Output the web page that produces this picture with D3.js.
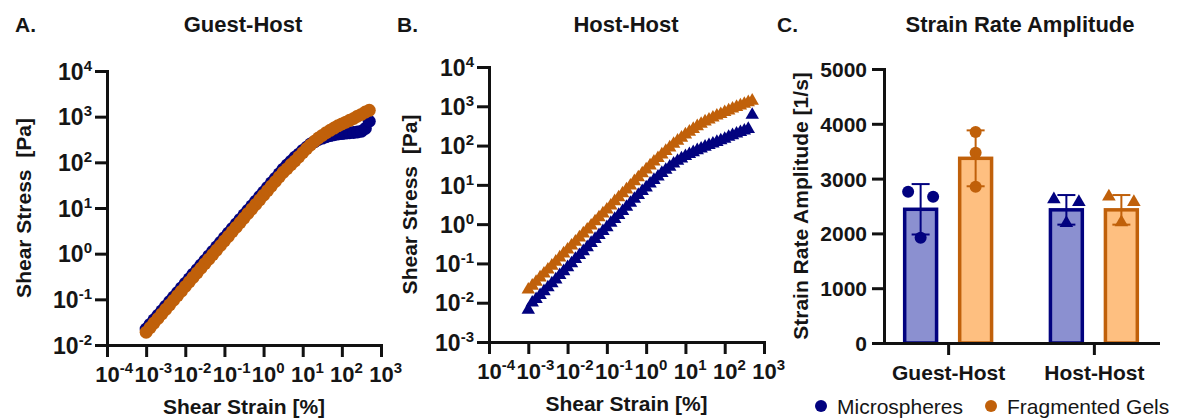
<!DOCTYPE html>
<html>
<head>
<meta charset="utf-8">
<script src="https://cdn.jsdelivr.net/npm/d3@7"></script>
<style>
  body { margin: 0; background: #fff; }
  svg text { font-family: "Liberation Sans", Arial, sans-serif; fill: #151515; }
</style>
</head>
<body>
<svg id="chart" width="1177" height="418"></svg>
<script>
"use strict";

// shear strain of the amplitude sweeps [%], 10 points per decade
var strain = [
    0.001, 0.00126, 0.00158, 0.002, 0.00251, 0.00316, 0.00398, 0.00501, 0.00631, 0.00794,
    0.01, 0.0126, 0.0158, 0.02, 0.0251, 0.0316, 0.0398, 0.0501, 0.0631, 0.0794,
    0.1, 0.126, 0.158, 0.2, 0.251, 0.316, 0.398, 0.501, 0.631, 0.794,
    1, 1.26, 1.58, 2, 2.51, 3.16, 3.98, 5.01, 6.31, 7.94,
    10, 12.6, 15.8, 20, 25.1, 31.6, 39.8, 50.1, 63.1, 79.4,
    100, 126, 158, 200, 251, 316, 398, 501];

// shear stress [Pa], guest-host
var ghMicro = [
    0.0224, 0.0282, 0.0355, 0.0447, 0.0562, 0.0708, 0.0891, 0.112, 0.141, 0.178,
    0.224, 0.282, 0.355, 0.447, 0.562, 0.708, 0.891, 1.12, 1.41, 1.78,
    2.24, 2.82, 3.55, 4.47, 5.62, 7.08, 8.91, 11.2, 14.1, 17.8,
    22.4, 28.2, 35.5, 44.7, 56.2, 70.8, 87.1, 105, 129, 151,
    182, 214, 251, 282, 316, 339, 363, 385, 403, 417,
    427, 437, 447, 452, 462, 479, 550, 794];
var ghFrag = [
    0.0191, 0.0240, 0.0302, 0.0380, 0.0479, 0.0603, 0.0759, 0.0955, 0.120, 0.151,
    0.191, 0.240, 0.302, 0.380, 0.479, 0.603, 0.759, 0.955, 1.20, 1.51,
    1.91, 2.40, 3.02, 3.80, 4.79, 6.03, 7.59, 9.55, 12.0, 15.1,
    19.1, 24.0, 30.2, 38.0, 47.9, 60.3, 72.4, 89.1, 107, 132,
    162, 200, 240, 288, 339, 389, 447, 501, 562, 631,
    692, 759, 832, 912, 1023, 1122, 1259, 1380];

// shear stress [Pa], host-host
var hhMicro = [
    0.00661, 0.0100, 0.0123, 0.0155, 0.0195, 0.0245, 0.0309, 0.0389, 0.0501, 0.0631,
    0.0794, 0.100, 0.129, 0.162, 0.204, 0.257, 0.331, 0.417, 0.525, 0.661,
    0.832, 1.07, 1.35, 1.70, 2.14, 2.75, 3.47, 4.37, 5.50, 6.92,
    8.51, 10.7, 13.2, 16.2, 20.0, 24.0, 28.8, 34.7, 40.7, 46.8,
    53.7, 60.3, 67.6, 75.9, 83.2, 93.3, 102, 112, 123, 135,
    148, 166, 182, 200, 219, 240, 263, 603];
var hhFrag = [
    0.0214, 0.0269, 0.0339, 0.0437, 0.0550, 0.0692, 0.0871, 0.110, 0.141, 0.178,
    0.224, 0.282, 0.355, 0.457, 0.575, 0.724, 0.912, 1.17, 1.48, 1.86,
    2.34, 2.95, 3.80, 4.79, 6.03, 7.59, 9.55, 12.3, 15.5, 19.5,
    24.5, 30.9, 38.9, 47.9, 58.9, 72.4, 89.1, 110, 132, 158,
    191, 224, 263, 309, 355, 407, 457, 513, 575, 631,
    708, 776, 871, 955, 1047, 1148, 1259, 1380];

// strain rate amplitude [1/s]
var groups = ["Guest-Host", "Host-Host"];
var series = ["Microspheres", "Fragmented Gels"];
var rateMean = { "Microspheres": [2440, 2430], "Fragmented Gels": [3370, 2430] };
var rateSD = { "Microspheres": [460, 270], "Fragmented Gels": [510, 270] };
var ratePoints = {
    "Microspheres": [[2760, 2670, 1920], [2620, 2570, 2190]],
    "Fragmented Gels": [[3850, 3470, 2850], [2670, 2570, 2200]]
};

var decadeTicks = [1e-4, 1e-3, 1e-2, 1e-1, 1e0, 1e1, 1e2, 1e3, 1e4];

var dark = { "Microspheres": "#02027f", "Fragmented Gels": "#c0600a" };
var light = { "Microspheres": "#8b90d0", "Fragmented Gels": "#febf80" };

var svg = d3.select("#chart");

// "10" + superscript exponent; centred on the "10" for the x axis
var pow10 = function pow10(sel, centreBase) {
    sel.each(function (d) {
        var t = d3.select(this);
        t.text(null);
        var base = t.append("tspan").text("10");
        t.append("tspan").attr("dy", -9).attr("font-size", 15)
            .text(String(Math.round(Math.log10(d))));
        if (centreBase) {
            t.attr("text-anchor", "start").attr("x", -base.node().getComputedTextLength() / 2);
        }
    });
};

var styleAxis = function styleAxis(g) {
    g.attr("font-family", null).attr("font-size", null);
    g.select(".domain").attr("stroke", "#111").attr("stroke-width", 3).attr("stroke-linecap", "square");
    g.selectAll(".tick line").attr("stroke", "#111").attr("stroke-width", 3);
    g.selectAll(".tick text").attr("fill", "#151515").attr("font-weight", "bold");
};

var drawTitle = function drawTitle(letter, lx, title, cx) {
    svg.append("text").attr("x", lx).attr("y", 32).attr("font-size", 21)
        .attr("font-weight", "bold").text(letter);
    svg.append("text").attr("x", cx).attr("y", 32).attr("font-size", 22)
        .attr("font-weight", "bold").attr("text-anchor", "middle").text(title);
};

var drawYTitle = function drawYTitle(x, cy, label) {
    svg.append("text").attr("transform", "translate(" + x + "," + cy + ") rotate(-90)")
        .attr("text-anchor", "middle").attr("font-size", 21).attr("font-weight", "bold")
        .style("white-space", "pre").text(label);
};

function drawSweep(opt) {
    var x = d3.scaleLog().domain([1e-4, 1e3]).range(opt.xr);
    var y = d3.scaleLog().domain([opt.ymin, 1e4]).range(opt.yr);
    var g = svg.append("g");

    opt.data.forEach(function (s) {
        var pts = strain.map(function (v, i) { return [v, s.values[i]]; });
        if (opt.shape === "circle") {
            g.append("g").selectAll("circle").data(pts).join("circle")
                .attr("cx", function (d) { return x(d[0]); })
                .attr("cy", function (d) { return y(d[1]); })
                .attr("r", 6.5).attr("fill", s.color);
        } else {
            g.append("g").selectAll("path").data(pts).join("path")
                .attr("transform", function (d) { return "translate(" + x(d[0]) + "," + y(d[1]) + ")"; })
                .attr("d", d3.symbol().type(d3.symbolTriangle).size(78)())
                .attr("fill", s.color);
        }
    });

    var xa = svg.append("g").attr("transform", "translate(0," + opt.yr[0] + ")")
        .call(d3.axisBottom(x).tickValues(decadeTicks.slice(0, 8)).tickSize(12).tickSizeOuter(0));
    styleAxis(xa);
    xa.selectAll(".tick text").attr("y", 37).attr("dy", 0).attr("font-size", 22)
        .call(pow10, true);

    var ya = svg.append("g").attr("transform", "translate(" + opt.xr[0] + ",0)")
        .call(d3.axisLeft(y).tickValues(decadeTicks.filter(function (v) { return v >= opt.ymin; }))
            .tickSize(12).tickSizeOuter(0));
    styleAxis(ya);
    ya.selectAll(".tick text").attr("x", -15).attr("dy", "0.36em").attr("font-size", 23)
        .call(pow10, false);

    svg.append("text").attr("x", (opt.xr[0] + opt.xr[1]) / 2).attr("y", opt.yr[0] + 69)
        .attr("text-anchor", "middle").attr("font-size", 21).attr("font-weight", "bold")
        .text("Shear Strain [%]");
    drawYTitle(opt.ytx, (opt.yr[0] + opt.yr[1]) / 2, "Shear Stress  [Pa]");
}

drawTitle("A.", 15, "Guest-Host", 243);
drawSweep({
    xr: [107, 381], yr: [345, 71], ymin: 1e-2, ytx: 31, shape: "circle",
    data: [{ values: ghMicro, color: dark["Microspheres"] }, { values: ghFrag, color: dark["Fragmented Gels"] }]
});

drawTitle("B.", 397, "Host-Host", 626);
drawSweep({
    xr: [489, 764], yr: [342, 67], ymin: 1e-3, ytx: 417, shape: "triangle",
    data: [{ values: hhMicro, color: dark["Microspheres"] }, { values: hhFrag, color: dark["Fragmented Gels"] }]
});

// panel C: bar chart with points and SD
drawTitle("C.", 777, "Strain Rate Amplitude", 1020);
(function () {
    var x0 = d3.scalePoint().domain(groups).range([884, 1158]).padding(0.44);
    var x1 = d3.scaleBand().domain(series).range([-55, 55]).paddingInner(0.42).paddingOuter(0.21);
    var y = d3.scaleLinear().domain([0, 5000]).range([343, 69]);
    var bw = x1.bandwidth();
    var g = svg.append("g");

    series.forEach(function (s) {
        groups.forEach(function (grp, gi) {
            var cx = x0(grp) + x1(s) + bw / 2;
            var m = rateMean[s][gi], sd = rateSD[s][gi];
            g.append("rect").attr("x", cx - bw / 2).attr("y", y(m))
                .attr("width", bw).attr("height", y(0) - y(m))
                .attr("fill", light[s]).attr("stroke", dark[s]).attr("stroke-width", 3.5);

            // spread points that would overlap
            var vals = ratePoints[s][gi].slice().sort(d3.descending);
            var offs = vals.map(function () { return 0; });
            for (var i = 0; i < vals.length - 1; i++) {
                if (y(vals[i + 1]) - y(vals[i]) < 13) { offs[i] = -12.5; offs[i + 1] = 12.5; i++; }
            }
            vals.forEach(function (v, i) {
                if (grp === "Guest-Host") {
                    g.append("circle").attr("cx", cx + offs[i]).attr("cy", y(v)).attr("r", 6)
                        .attr("fill", dark[s]);
                } else {
                    g.append("path").attr("transform", "translate(" + (cx + offs[i]) + "," + y(v) + ")")
                        .attr("d", d3.symbol().type(d3.symbolTriangle).size(80)())
                        .attr("fill", dark[s]);
                }
            });

            g.append("line").attr("x1", cx).attr("x2", cx).attr("y1", y(m - sd)).attr("y2", y(m + sd))
                .attr("stroke", dark[s]).attr("stroke-width", 2);
            [m - sd, m + sd].forEach(function (v) {
                g.append("line").attr("x1", cx - 9).attr("x2", cx + 9).attr("y1", y(v)).attr("y2", y(v))
                    .attr("stroke", dark[s]).attr("stroke-width", 2);
            });
        });
    });

    var xa = svg.append("g").attr("transform", "translate(0,343)")
        .call(d3.axisBottom(x0).tickSize(12).tickSizeOuter(0));
    styleAxis(xa);
    xa.selectAll(".tick text").attr("y", 37).attr("dy", 0).attr("font-size", 21);

    var ya = svg.append("g").attr("transform", "translate(884,0)")
        .call(d3.axisLeft(y).tickValues([0, 1000, 2000, 3000, 4000, 5000]).tickFormat(d3.format("d"))
            .tickSize(12).tickSizeOuter(0));
    styleAxis(ya);
    ya.selectAll(".tick text").attr("x", -17).attr("dy", "0.36em").attr("font-size", 21);

    drawYTitle(808, 206, "Strain Rate Amplitude [1/s]");

    // legend
    var lg = svg.append("g");
    var lx = [821, 991];
    series.forEach(function (s, i) {
        lg.append("circle").attr("cx", lx[i]).attr("cy", 406).attr("r", 6).attr("fill", dark[s]);
        lg.append("text").attr("x", lx[i] + 16).attr("y", 414).attr("font-size", 21).text(s);
    });
})();
</script>
</body>
</html>
